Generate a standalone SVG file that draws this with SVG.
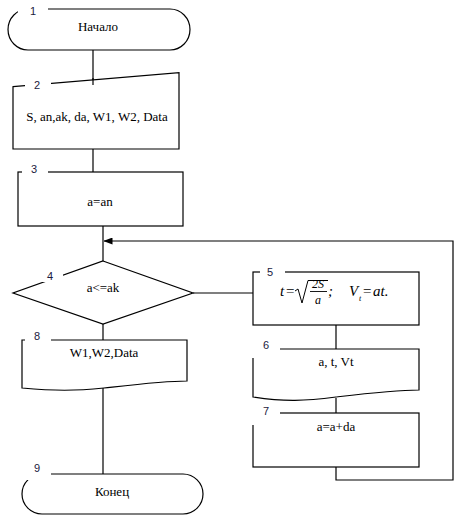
<svg xmlns="http://www.w3.org/2000/svg" width="460" height="517" viewBox="0 0 460 517">
<style>
.s{fill:#fff;stroke:#000;stroke-width:1.2}
.c{fill:none;stroke:#000;stroke-width:1.2}
.t{font-family:"Liberation Serif","Times New Roman","DejaVu Serif",serif;font-size:13px;fill:#000;text-anchor:middle}
.n{font-family:"Liberation Sans",Arial,sans-serif;font-size:11px;fill:#1a1a40;text-anchor:middle}
.m{font-family:"Liberation Serif","Times New Roman","DejaVu Serif",serif;font-style:italic;font-size:15px;fill:#000}
.r{font-style:normal}
.bg{fill:#fff;stroke:none}
</style>
<defs>
<marker id="ah" markerWidth="9" markerHeight="7" refX="8.5" refY="3.5" orient="auto" markerUnits="userSpaceOnUse">
<path d="M0,0 L9,3.5 L0,7 Z" fill="#000"/>
</marker>
</defs>
<g id="connectors">
<path class="c" d="M93,50 V85"/>
<path class="c" d="M93,149 V172"/>
<path class="c" d="M103,226 V261"/>
<path class="c" d="M193,293 H253"/>
<path class="c" d="M336,325 V349"/>
<path class="c" d="M336,398 V413"/>
<path class="c" d="M103,324 V474"/>
<path class="c" d="M336,467 V480 H453 V241 H104" marker-end="url(#ah)"/>
</g>
<g id="node1">
<path class="s" d="M28,9 H170 A20,20.5 0 0 1 170,50 H28 A20,20.5 0 0 1 28,9 Z"/>
<rect class="bg" x="18" y="0" width="30" height="16"/>
<text class="n" x="33" y="15">1</text>
<text class="t" x="98" y="31">Начало</text>
</g>
<g id="node2">
<path class="s" d="M13,86.7 L179,72.7 V149 H13 Z"/>
<path class="c" d="M93,78 V85"/>
<rect class="bg" x="25" y="76" width="26" height="12"/>
<text class="n" x="37" y="89">2</text>
<text class="t" x="97" y="121">S, an,ak, da, W1, W2, Data</text>
</g>
<g id="node3">
<rect class="s" x="18" y="172" width="165" height="54"/>
<rect class="bg" x="22" y="160" width="26" height="13"/>
<text class="n" x="34" y="173">3</text>
<text class="t" x="100" y="206">a=an</text>
</g>
<g id="node4">
<path class="s" d="M103,261 L193,293 L103,324 L13,293 Z"/>
<rect class="bg" x="39" y="268" width="24" height="14"/>
<text class="n" x="50" y="280">4</text>
<text class="t" x="103" y="292">a&lt;=ak</text>
</g>
<g id="node5">
<rect class="s" x="253" y="272" width="166" height="53"/>
<rect class="bg" x="260" y="264" width="25" height="9"/>
<text class="n" x="270" y="276">5</text>
<text class="m" x="280" y="296">t</text>
<text class="m r" x="286" y="296">=</text>
<path class="c" d="M295,291 L298,289 L302,303 L308,280.5 H328" style="stroke-width:1"/>
<text class="m" x="318" y="288" text-anchor="middle" style="font-size:12px">2S</text>
<path class="c" d="M310,291.5 H327" style="stroke-width:0.9"/>
<text class="m" x="318" y="304" text-anchor="middle" style="font-size:12px">a</text>
<text class="m" x="328" y="296">;</text>
<text class="m" x="349" y="296">V</text>
<text class="m" x="359" y="301" style="font-size:8px">t</text>
<text class="m r" x="363" y="296">=</text>
<text class="m" x="373" y="296">at.</text>
</g>
<g id="node6">
<path class="s" d="M253,349 H419 V390 C395,390 370,393 336,397 C305,401 285,402 253,397 Z"/>
<rect class="bg" x="252" y="338" width="28" height="20"/>
<text class="n" x="266" y="349">6</text>
<text class="t" x="336" y="366">a, t, Vt</text>
</g>
<g id="node7">
<rect class="s" x="253" y="413" width="166" height="54"/>
<rect class="bg" x="252" y="403" width="28" height="22"/>
<text class="n" x="266" y="415">7</text>
<text class="t" x="336" y="431">a=a+da</text>
</g>
<g id="node8">
<path class="s" d="M22,340 H187 V381 C165,381 140,384 104,388 C75,391 55,391 22,388 Z"/>
<rect class="bg" x="25" y="330" width="26" height="11"/>
<text class="n" x="37" y="340">8</text>
<text class="t" x="104" y="357">W1,W2,Data</text>
</g>
<g id="node9">
<path class="s" d="M42,474 H183 A20,20 0 0 1 183,514 H42 A20,20 0 0 1 42,474 Z"/>
<rect class="bg" x="20" y="460" width="31" height="20"/>
<text class="n" x="37" y="472">9</text>
<text class="t" x="112" y="496">Конец</text>
</g>
</svg>
